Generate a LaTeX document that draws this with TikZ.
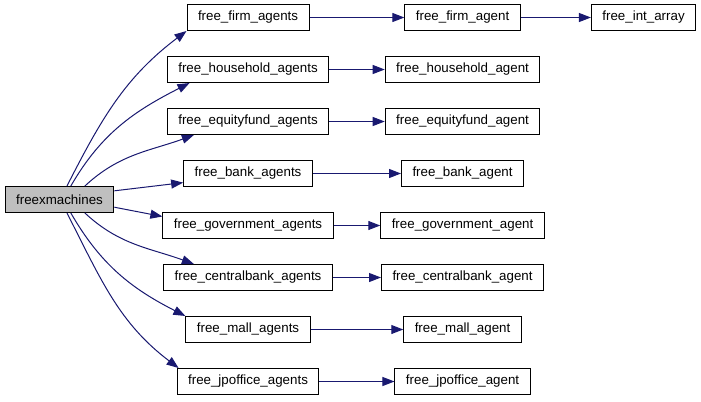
\documentclass[tikz,border=0pt]{standalone}
\usepackage{fontspec}
\setmainfont{Liberation Sans}
\usetikzlibrary{arrows.meta,trees}
\definecolor{callblue}{RGB}{25,25,112}
\definecolor{rootgray}{RGB}{191,191,191}

\begin{document}
\begin{tikzpicture}[x=0.75pt, y=0.75pt, grow'=right,
  every node/.style = {shape=rectangle, draw, line width=0.75pt,
    inner xsep=8.25pt, minimum height=19.5pt,
    font=\fontsize{10}{12}\selectfont},
  edge from parent/.style = {draw=none},
  call/.style = {draw=callblue, line width=0.75pt,
    -{Triangle[length=9pt,width=6.75pt]}}]
    \tikzstyle{level 1}=[level distance=141.4pt, sibling distance=39pt]
    \tikzstyle{level 2}=[level distance=160.9pt]
    \tikzstyle{level 3}=[level distance=135.75pt]
  \useasboundingbox (0,0) rectangle (701,-401);
  \node [fill=rootgray] (fxm) at (59.5,-199.5) {freexmachines}
    child { node (firms) {free\_firm\_agents}
      child { node (firm) {free\_firm\_agent}
        child { node (intarr) {free\_int\_array} } } }
    child { node (hhs) {free\_household\_agents}
      child { node (hh) {free\_household\_agent} } }
    child { node (eqs) {free\_equityfund\_agents}
      child { node (eq) {free\_equityfund\_agent} } }
    child { node (banks) {free\_bank\_agents}
      child { node (bank) {free\_bank\_agent} } }
    child { node (govs) {free\_government\_agents}
      child { node (gov) {free\_government\_agent} } }
    child { node (cbs) {free\_centralbank\_agents}
      child { node (cb) {free\_centralbank\_agent} } }
    child { node (malls) {free\_mall\_agents}
      child { node (mall) {free\_mall\_agent} } }
    child { node (jps) {free\_jpoffice\_agents}
      child { node (jp) {free\_jpoffice\_agent} } };
  % calls from freexmachines
  \draw[call] (fxm.61) to[out=63, in=217] (firms.south west);
  \draw[call] (fxm.50) to[out=60, in=207] (hhs.193);
  \draw[call] (fxm.28) to[out=43, in=200] (eqs.194);
  \draw[call] (fxm.9) -- (banks.188);
  \draw[call] (fxm.-8) -- (govs.174);
  \draw[call] (fxm.-28) to[out=-43, in=160] (cbs.166);
  \draw[call] (fxm.-50) to[out=-60, in=153] (malls.north west);
  \draw[call] (fxm.-61) to[out=-63, in=143] (jps.169);
  % calls further down
  \draw[call] (firms) -- (firm);
  \draw[call] (firm) -- (intarr);
  \draw[call] (hhs) -- (hh);
  \draw[call] (eqs) -- (eq);
  \draw[call] (banks) -- (bank);
  \draw[call] (govs) -- (gov);
  \draw[call] (cbs) -- (cb);
  \draw[call] (malls) -- (mall);
  \draw[call] (jps) -- (jp);
\end{tikzpicture}
\end{document}
